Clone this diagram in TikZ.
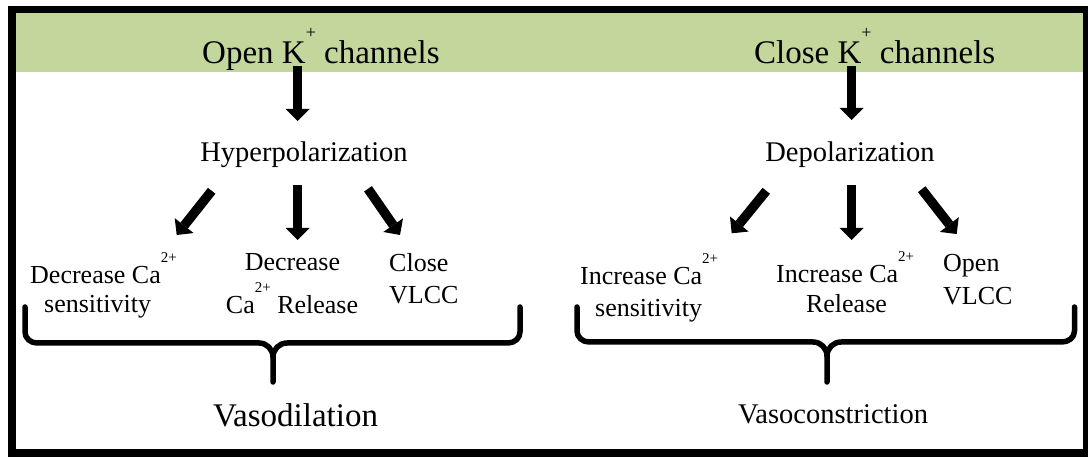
\documentclass[tikz,border=0pt]{standalone}
\usepackage{fontspec}
\setmainfont{Liberation Serif}
\usetikzlibrary{arrows.meta}
\definecolor{bandgreen}{RGB}{195,214,155}
\newcommand{\supx}[3]{\raisebox{#1pt}{\fontsize{#2}{#2}\selectfont #3}}
\tikzset{
  titletext/.style={inner sep=0pt, anchor=base west, font=\fontsize{33}{40}\selectfont},
  midtext/.style={inner sep=0pt, anchor=base, font=\fontsize{28.5}{34}\selectfont},
  labtext/.style={inner sep=0pt, anchor=base west, font=\fontsize{26}{31}\selectfont},
  labctext/.style={inner sep=0pt, anchor=base, font=\fontsize{26}{31}\selectfont},
  bigarrow/.style={line width=9.5pt, -{Triangle[width=24pt,length=12pt,line width=0pt]}},
  brace/.style={line width=5.5pt, line cap=round, line join=round},
}
\begin{document}
\begin{tikzpicture}[x=1pt,y=-1pt]
\useasboundingbox (0,0) rectangle (1088,457);
% frame
\fill[black] (8,6) rectangle (1088,457);
\fill[white] (16,13) rectangle (1083,449);
\fill[bandgreen] (16,13) rectangle (1083,71.7);

% titles
\node[titletext] (openk) at (202,63.3) {Open K\supx{25}{18}{+} channels};
\node[titletext] (closek) at (754,63.3) {Close K\supx{25}{18}{+} channels};

% middle texts
\node[midtext] (hyp) at (304,161.7) {Hyperpolarization};
\node[midtext] (dep) at (850,161.7) {Depolarization};

% left labels
\node[labtext] (l1a) at (30,283.3) {Decrease Ca\supx{21}{15}{2+}};
\node[labtext] (l1b) at (44,312.7) {sensitivity};
\node[labctext] (l2a) at (292.5,270.7) {Decrease};
\node[labctext] (l2b) at (292,314) {Ca\supx{21}{15}{2+} Release};
\node[labtext] (l3a) at (389,271.7) {Close};
\node[labtext] (l3b) at (389,304) {VLCC};

% right labels
\node[labtext] (r1a) at (580,285) {Increase Ca\supx{21}{15}{2+}};
\node[labtext] (r1b) at (595,317) {sensitivity};
\node[labtext] (r2a) at (776,283) {Increase Ca\supx{21}{15}{2+}};
\node[labctext] (r2b) at (846.5,313) {Release};
\node[labtext] (r3a) at (943,272) {Open};
\node[labtext] (r3b) at (943,305) {VLCC};

% results
\node[inner sep=0pt, anchor=base, font=\fontsize{33}{40}\selectfont] (vasod) at (295.5,426.7) {Vasodilation};
\node[inner sep=0pt, anchor=base, font=\fontsize{28.5}{34}\selectfont] (vasoc) at (833,423) {Vasoconstriction};

% arrow end coordinates
\coordinate (la0s) at (297.7,66);   \coordinate (la0e) at (297.7,121);
\coordinate (la1s) at (211.7,190.8); \coordinate (la1e) at (176.7,235);
\coordinate (la2s) at (297.7,185);  \coordinate (la2e) at (297.7,240);
\coordinate (la3s) at (368,188.8);  \coordinate (la3e) at (400,235);
\coordinate (ra0s) at (851.7,66);   \coordinate (ra0e) at (851.7,120);
\coordinate (ra1s) at (766.3,190.8); \coordinate (ra1e) at (731.7,233.3);
\coordinate (ra2s) at (851.7,185);  \coordinate (ra2e) at (851.7,240);
\coordinate (ra3s) at (921.7,189.2); \coordinate (ra3e) at (956.7,234);

\foreach \a in {la0,la1,la2,la3,ra0,ra1,ra2,ra3}
  \draw[bigarrow] (\a s) -- (\a e);

% braces
\draw[brace] (25,307) -- (25,332) to[out=-90,in=180] (37,343) -- (259,343)
  to[out=0,in=90] (273,357) -- (273,382);
\draw[brace] (273,357) to[out=90,in=180] (287,343) -- (508,343)
  to[out=0,in=-90] (520,332) -- (520,307);
\draw[brace] (577,307) -- (577,331) to[out=-90,in=180] (589,342) -- (813,342)
  to[out=0,in=90] (827,356) -- (827,382);
\draw[brace] (827,356) to[out=90,in=180] (841,342) -- (1062,342)
  to[out=0,in=-90] (1074.5,331) -- (1074.5,307);
\end{tikzpicture}
\end{document}
